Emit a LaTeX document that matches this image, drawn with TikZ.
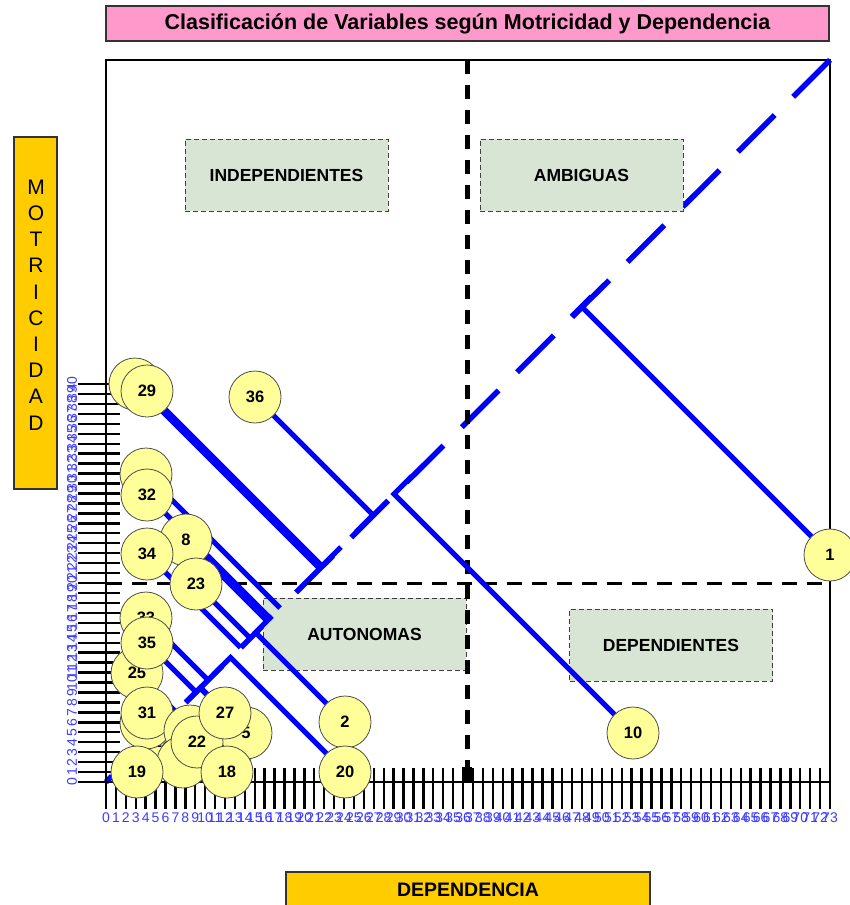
\documentclass[tikz,border=0pt]{standalone}
\usepackage{fontspec}
\setmainfont{Liberation Sans}
\pgfdeclarelayer{back}
\pgfdeclarelayer{mid}
\pgfsetlayers{back,mid,main}
\definecolor{varfill}{RGB}{255,255,153}
\definecolor{quadfill}{RGB}{216,228,212}
\definecolor{pinkfill}{RGB}{255,153,204}
\definecolor{orangefill}{RGB}{255,204,0}
\definecolor{axisblue}{RGB}{60,60,255}
\tikzset{
  varnode/.style={circle, draw=black!70, line width=0.8pt, fill=varfill,
    minimum size=52pt, inner sep=0pt, font=\fontsize{16.5}{16.5}\selectfont\bfseries},
  infl/.style={draw=blue, line width=5pt},
  diagline/.style={draw=blue, line width=5.5pt, dash pattern=on 52pt off 26pt},
  quad/.style={draw=black!75, line width=1pt, dash pattern=on 5pt off 3pt,
    fill=quadfill, minimum width=203pt, minimum height=72pt, inner sep=0pt,
    font=\fontsize{17.5}{17.5}\selectfont\bfseries},
  axline/.style={draw=black, line width=1.3pt},
  axtick/.style={draw=black, line width=2.4pt},
  ticklbl/.style={text=axisblue, inner sep=0pt, font=\fontsize{14}{14}\selectfont},
  hdash/.style={draw=black, line width=3pt, dash pattern=on 15pt off 10pt},
  vdash/.style={draw=black, line width=5pt, dash pattern=on 14pt off 11pt},
  banner/.style={draw=black!80, line width=1.2pt, inner sep=0pt},
}
\begin{document}
\begin{tikzpicture}[x=1pt,y=-1pt]
\useasboundingbox (0,0) rectangle (849,905);

% ---------- variables (front layer) ----------
\node[varnode] (v29b) at (135,384) {};
\node[varnode] (v29) at (147,391) {29};
\node[varnode] (v36) at (255,397) {36};
\node[varnode] (v32b) at (146,474) {};
\node[varnode] (v32) at (147,495) {32};
\node[varnode] (v8) at (186,540) {8};
\node[varnode] (v34) at (147,554) {34};
\node[varnode] (v23) at (196,584) {23};
\node[varnode] (v33) at (146,618) {33};
\node[varnode] (v25) at (137,673) {25};
\node[varnode] (v35) at (147,643) {35};
\node[varnode] (v12) at (162,742) {12};
\node[varnode] (h1) at (146,723) {};
\node[varnode] (v31) at (147,713) {31};
\node[varnode] (h2) at (190,731) {};
\node[varnode] (h3) at (183,762) {};
\node[varnode] (h4) at (225,757) {};
\node[varnode] (v5) at (246,733) {5};
\node[varnode] (v19) at (137,772) {19};
\node[varnode] (v22) at (197,742) {22};
\node[varnode] (v27) at (225,713) {27};
\node[varnode] (v18) at (227,772) {18};
\node[varnode] (v2) at (345,722) {2};
\node[varnode] (v20) at (345,772) {20};
\node[varnode] (v10) at (633,733) {10};
\node[varnode] (v1) at (830,555) {1};

% ---------- background: frame, diagonal, quadrants, axes ----------
\begin{pgfonlayer}{back}
  \draw[line width=1.2pt] (106,782) -- (106,60) -- (830,60) -- (830,782);
  \coordinate (o) at (106,782);
  \coordinate (e) at (830,60);
  \draw[diagline] (e) -- (o);

  \node[quad] (indep) at (286.5,175) {INDEPENDIENTES};
  \node[quad] (ambig) at (581.5,175) {AMBIGUAS};
  \node[quad] (auton) at (364.5,634) {AUTONOMAS};
  \node[quad] (depend) at (671,645) {DEPENDIENTES};

  \draw[hdash] (107,583) -- (830,583);
  \draw[vdash] (467,60) -- (467,782);
  \fill (462,767) rectangle (472,782);

  \draw[axline] (106,782) -- (830,782);
  \foreach \i in {0,...,73} {
    \draw[axtick] ({106+\i*9.918},768) -- ({106+\i*9.918},809);
    \node[ticklbl] (xl\i) at ({106+\i*9.918},818) {\i};
  }
  \foreach \i in {0,...,40} {
    \draw[axtick] (78,{782-\i*9.95}) -- (120,{782-\i*9.95});
    \node[ticklbl, rotate=90] (yl\i) at (72,{782-\i*9.95}) {\i};
  }
\end{pgfonlayer}

% ---------- projections onto the diagonal ----------
\begin{pgfonlayer}{mid}
  \coordinate (q1) at (581.5,306.5);
  \coordinate (f1a) at (571.5,316.5);
  \coordinate (f1b) at (591.5,296.5);
  \draw[infl] (v1.center) -- (q1);
  \draw[infl] (f1a) -- (f1b);

  \coordinate (q10) at (394,494);
  \coordinate (f10) at (412,476);
  \draw[infl] (v10.center) -- (q10) -- (f10);

  \coordinate (q36) at (373,515);
  \coordinate (f36) at (356,532);
  \draw[infl] (v36.center) -- (q36) -- (f36);

  \coordinate (q29) at (322,566);
  \coordinate (f29) at (341,547);
  \coordinate (q29b) at (319.5,568.5);
  \draw[infl] (v29b.center) -- (q29b);
  \draw[infl] (v29.center) -- (q29) -- (f29);

  \coordinate (q32b) at (280,608);
  \coordinate (q32) at (270,618);
  \coordinate (q8) at (267,621);
  \draw[infl] (v32b.center) -- (q32b);
  \draw[infl] (v32.center) -- (q32);
  \draw[infl] (v8.center) -- (q8);

  \coordinate (q34) at (240.5,647.5);
  \coordinate (q23) at (250,638);
  \draw[infl] (v34.center) -- (q34);
  \draw[infl] (v23.center) -- (q23);

  \coordinate (q2) at (255.5,632.5);
  \coordinate (f2) at (272,616);
  \draw[infl] (v2.center) -- (q2) -- (f2);

  \coordinate (q20) at (230.5,657.5);
  \coordinate (f20) at (213,675);
  \draw[infl] (v20.center) -- (q20) -- (f20);

  \coordinate (q33) at (208,680);
  \coordinate (q35) at (196,692);
  \coordinate (q25) at (176,712);
  \draw[infl] (v33.center) -- (q33);
  \draw[infl] (v35.center) -- (q35);
  \draw[infl] (v25.center) -- (q25);

  \coordinate (q27) at (200,688);
  \coordinate (f27) at (186,702);
  \draw[infl] (v27.center) -- (q27) -- (f27);
  \coordinate (q5) at (200.5,687.5);
  \draw[infl] (v5.center) -- (q5);
  \coordinate (q22) at (171.5,716.5);
  \draw[infl] (v22.center) -- (q22);
  \draw[infl] (v18.center) -- (q22);
\end{pgfonlayer}

% ---------- title and axis captions ----------
\node[banner, fill=pinkfill, minimum width=723pt, minimum height=35pt,
  font=\fontsize{21.5}{21.5}\selectfont\bfseries] (title) at (467.5,23.5)
  {Clasificación de Variables según Motricidad y Dependencia};

\node[banner, fill=orangefill, minimum width=43pt, minimum height=352pt] (motbox) at (35.5,313) {};
\node[font=\fontsize{21}{26.2}\selectfont, align=center, inner sep=0pt] (motlbl) at (36,305)
  {M\\O\\T\\R\\I\\C\\I\\D\\A\\D};

\fill[orangefill] (286,872) rectangle (650,905);
\draw[black!80, line width=1.2pt] (286,905) -- (286,872) -- (650,872) -- (650,905);
\node[font=\fontsize{19.5}{19.5}\selectfont\bfseries] (deplbl) at (468,890) {DEPENDENCIA};
\end{tikzpicture}
\end{document}
